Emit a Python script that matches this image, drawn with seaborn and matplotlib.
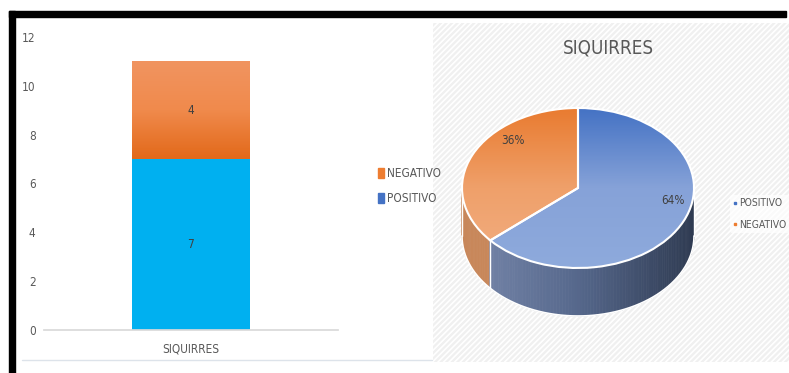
import numpy as np
import pandas as pd
import seaborn as sb
import matplotlib.pyplot as plt
from matplotlib import font_manager as fm
from matplotlib.patches import Rectangle, Polygon, Patch
from matplotlib.lines import Line2D
from matplotlib.colors import LinearSegmentedColormap

categorias = ["SIQUIRRES"]
positivo = [7]
negativo = [4]
etiquetas_pie = ["POSITIVO", "NEGATIVO"]
valores_pie = [7, 4]

sb.set_theme(style="white")

# buscar una fuente estrecha parecida a la del original
nombres = {(f.name, f.stretch) for f in fm.fontManager.ttflist}
if ("DejaVu Sans", "condensed") in nombres:
    plt.rcParams['font.family'] = ['DejaVu Sans']
    plt.rcParams['font.stretch'] = 'condensed'
    fs = 8.5
elif any(n == "Liberation Sans Narrow" for n, _ in nombres):
    plt.rcParams['font.family'] = ['Liberation Sans Narrow', 'DejaVu Sans']
    fs = 9
else:
    plt.rcParams['font.family'] = ['Roboto', 'DejaVu Sans']
    fs = 8
plt.rcParams['hatch.linewidth'] = 1.2

W, H = 789, 373
fig = plt.figure(figsize=(W / 100, H / 100), dpi=100)


def fx(px):
    return px / W


def fy(py):
    return 1 - py / H


# ---- stacked bar
df = pd.DataFrame({"cat": categorias, "pos": positivo, "neg": negativo})
df["total"] = df["pos"] + df["neg"]

ax = fig.add_axes([fx(44), fy(330), fx(338) - fx(44), fy(37) - fy(330)])
sb.barplot(data=df, x="cat", y="total", color="#ee7d31", width=0.4,
           saturation=1, ax=ax, linewidth=0)
sb.barplot(data=df, x="cat", y="pos", color="#00b0f0", width=0.4,
           saturation=1, ax=ax, linewidth=0)

# degradado de la parte naranja
naranja = ax.patches[0]
x0 = naranja.get_x()
grad = np.linspace(0, 1, 100).reshape(-1, 1)
cmap_nar = LinearSegmentedColormap.from_list("nar", ["#e2691a", "#f08a4c", "#f19460"])
im = ax.imshow(grad, extent=[x0, x0 + naranja.get_width(), df["pos"][0], df["total"][0]],
               origin="lower", cmap=cmap_nar, aspect="auto", zorder=1.5)
im.set_clip_path(naranja)

for i, r in df.iterrows():
    ax.text(i, r["pos"] / 2, str(r["pos"]), ha="center", va="center",
            fontsize=fs, color="#404040")
    ax.text(i, r["pos"] + r["neg"] / 2, str(r["neg"]), ha="center", va="center",
            fontsize=fs, color="#404040")

ax.set_xlim(-0.5, 0.5)
ax.set_ylim(0, 12)
ax.set_yticks(range(0, 13, 2))
ax.set_xlabel("")
ax.set_ylabel("")
for s in ["top", "right", "left"]:
    ax.spines[s].set_visible(False)
ax.spines["bottom"].set_color("#d9d9d9")
ax.tick_params(axis="y", colors="#595959", labelsize=fs, length=0, pad=6)
ax.tick_params(axis="x", colors="#595959", labelsize=fs, length=0, pad=9)

fig.legend(handles=[Patch(color="#ee7d31", label="NEGATIVO"),
                    Patch(color="#4472c4", label="POSITIVO")],
           loc="center left", bbox_to_anchor=(fx(367), fy(186)),
           frameon=False, fontsize=fs, handlelength=0.5, handleheight=0.9,
           handletextpad=0.3, labelspacing=1.0, labelcolor="#595959")

# ---- pie 3D
bg = fig.add_axes([fx(433), fy(362), fx(789) - fx(433), fy(23) - fy(362)])
bg.add_patch(Rectangle((0, 0), 1, 1, facecolor="#f0f0f0", edgecolor="white",
                       hatch="//////", linewidth=0, transform=bg.transAxes))
bg.set_axis_off()

pax = fig.add_axes(bg.get_position(), facecolor="none")
colores = ["#6f93d3", "#ee9a60"]
wedges, textos, pcts = pax.pie(valores_pie, colors=colores, startangle=90,
                               counterclock=False, autopct="%.0f%%",
                               wedgeprops=dict(edgecolor="white", linewidth=1.5),
                               textprops=dict(fontsize=fs, color="#404040"))
pax.set_aspect("auto")
rx, ry = 116, 80
cx, cy = 578 - 433, 362 - 188
pw, ph = 789 - 433, 362 - 23
pax.set_xlim(-cx / rx, (pw - cx) / rx)
pax.set_ylim(-cy / ry, (ph - cy) / ry)
pax.set_axis_off()

# paredes laterales
h = 0.6
frac = np.array(valores_pie) / sum(valores_pie)
corte = np.deg2rad(90 - 360 * frac[0]) % (2 * np.pi)
lado_azul = LinearSegmentedColormap.from_list("la", ["#7888ac", "#56688c", "#2f3b52"])
n = 120
ang = np.linspace(np.pi, 2 * np.pi, n + 1)
for a0, a1 in zip(ang[:-1], ang[1:]):
    am = (a0 + a1) / 2
    if am < corte:
        col = "#c8875a"
    else:
        col = lado_azul((np.cos(am) + 1) / 2)
    xs = [np.cos(a0), np.cos(a1), np.cos(a1), np.cos(a0)]
    ys = [np.sin(a0), np.sin(a1), np.sin(a1) - h, np.sin(a0) - h]
    pax.add_patch(Polygon(list(zip(xs, ys)), closed=True, facecolor=col,
                          edgecolor=col, linewidth=0.5, zorder=0.5))
aa = np.linspace(np.pi, 2 * np.pi, 200)
pax.plot(np.cos(aa), np.sin(aa) - h, color="white", lw=1.2, zorder=0.6)
pax.plot([-1, -1], [0, -h], color="white", lw=1.0, zorder=0.6)
pax.plot([1, 1], [0, -h], color="white", lw=1.0, zorder=0.6)
pax.plot([np.cos(corte)] * 2, [np.sin(corte), np.sin(corte) - h], color="white",
         lw=1.0, zorder=0.6)

# degradado de las caras superiores
cm_top = [LinearSegmentedColormap.from_list("a", ["#8eaadc", "#86a2d8", "#4472c4"]),
          LinearSegmentedColormap.from_list("n", ["#f2ae82", "#efa06a", "#e97b30"])]
for w, cm in zip(wedges, cm_top):
    g = pax.imshow(grad, extent=[-1, 1, -1, 1], origin="lower", cmap=cm,
                   aspect="auto", zorder=w.get_zorder() + 0.1)
    g.set_clip_path(w)
    w.set_zorder(w.get_zorder() + 0.2)
    w.set_facecolor("none")

pcts[0].set_position(((673 - 578) / rx, (188 - 200) / ry))
pcts[1].set_position(((513 - 578) / rx, (188 - 140) / ry))
for t in pcts:
    t.set_zorder(5)

fig.text(fx(608), fy(48), "SIQUIRRES", fontsize=fs + 5, color="#595959",
         ha="center", va="center")

fig.legend(handles=[Line2D([], [], marker="s", ls="", color="#4472c4", markersize=2, label="POSITIVO"),
                    Line2D([], [], marker="s", ls="", color="#ed7d31", markersize=2, label="NEGATIVO")],
           loc="center left", bbox_to_anchor=(fx(730), fy(214)),
           frameon=True, facecolor="white", edgecolor="none", framealpha=0.7,
           fontsize=fs - 1, handlelength=0.4, handletextpad=0.2, labelspacing=1.1,
           labelcolor="#595959", borderpad=0.3, borderaxespad=0)

# marco negro
fig.add_artist(Rectangle((fx(9), fy(17)), fx(786) - fx(9), fy(11) - fy(17),
                         color="black", transform=fig.transFigure))
fig.add_artist(Rectangle((fx(9), 0), fx(15) - fx(9), fy(11),
                         color="black", transform=fig.transFigure))
fig.add_artist(Line2D([fx(22), fx(432)], [fy(360), fy(360)], color="#dde3ea",
                      lw=1, transform=fig.transFigure))

fig.savefig("out.png", dpi=100)
